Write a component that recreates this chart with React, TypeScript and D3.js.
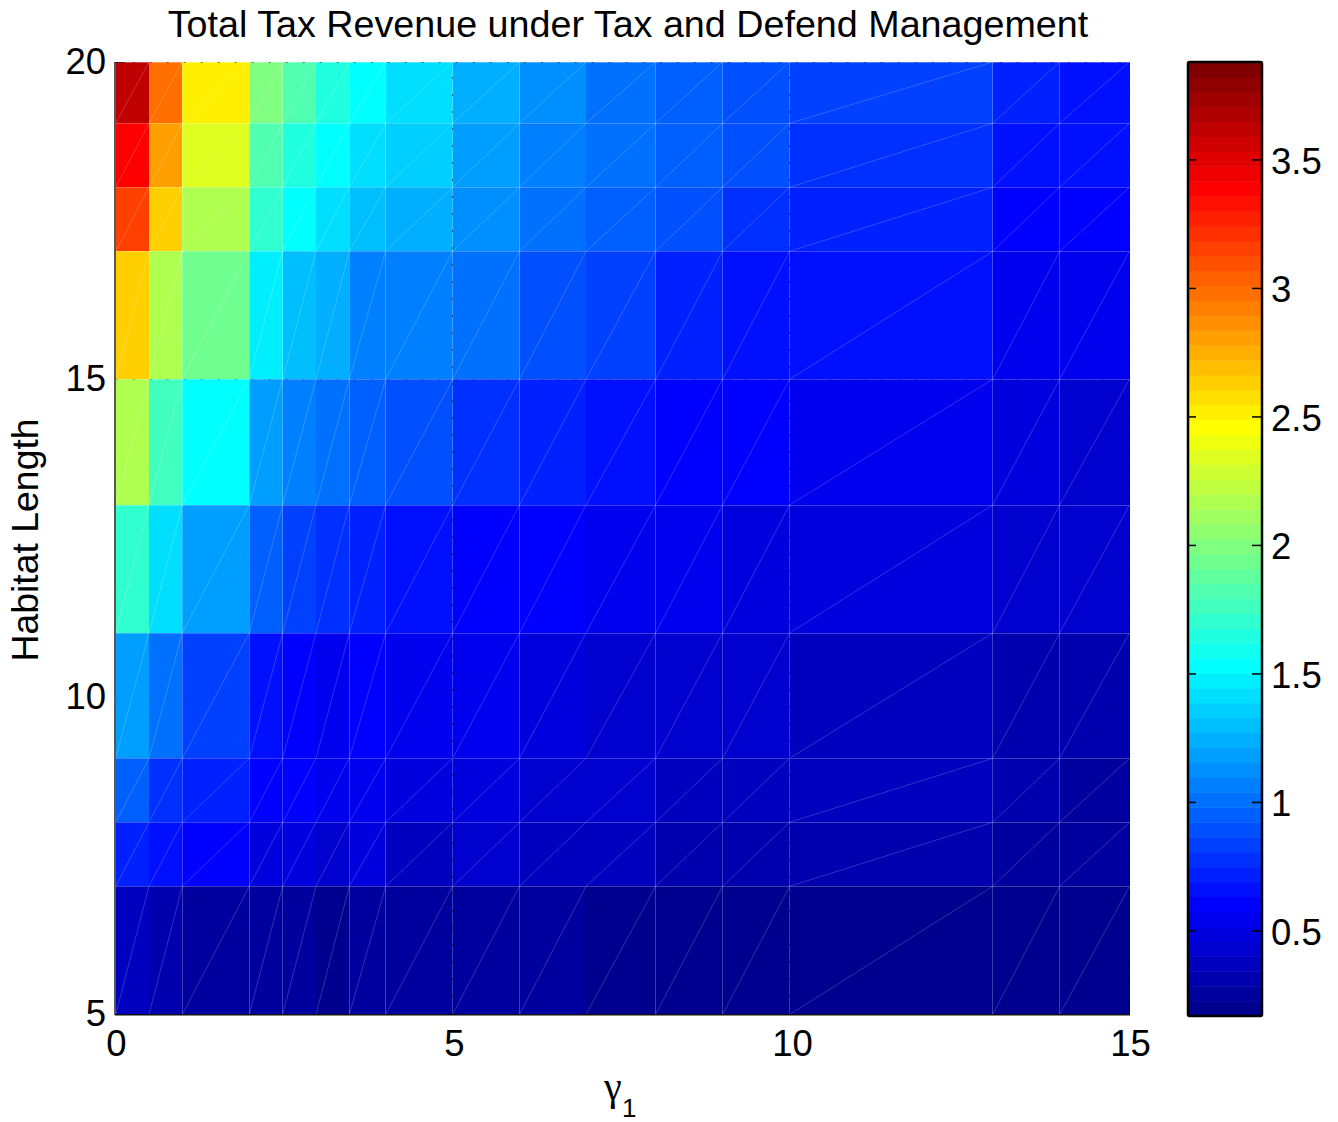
import React from "react";
import * as d3 from "d3";

const xEdges = [0, 0.5, 1, 2, 2.5, 3, 3.5, 4, 5, 6, 7, 8, 9, 10, 13, 14, 15];
const yEdges = [20, 19, 18, 17, 15, 13, 11, 9, 8, 7, 5];
const row19 = [3.62, 2.98, 2.52, 2.0, 1.82, 1.65, 1.53, 1.42, 1.24, 1.13, 1.01, 0.95, 0.89, 0.84, 0.72, 0.66];
const row18 = [3.39, 2.81, 2.35, 1.82, 1.65, 1.53, 1.42, 1.36, 1.18, 1.07, 1.01, 0.95, 0.89, 0.78, 0.66, 0.66];
const row17 = [3.16, 2.64, 2.17, 1.71, 1.53, 1.42, 1.3, 1.24, 1.13, 1.01, 0.95, 0.89, 0.78, 0.72, 0.6, 0.6];
const row15 = [2.64, 2.17, 1.94, 1.48, 1.3, 1.24, 1.07, 1.07, 1.01, 0.89, 0.84, 0.72, 0.66, 0.66, 0.55, 0.55];
const row13 = [2.17, 1.77, 1.53, 1.18, 1.07, 1.01, 0.95, 0.89, 0.78, 0.72, 0.66, 0.6, 0.6, 0.55, 0.49, 0.43];
const row11 = [1.71, 1.42, 1.18, 0.95, 0.84, 0.78, 0.72, 0.66, 0.6, 0.6, 0.55, 0.55, 0.49, 0.49, 0.43, 0.43];
const row9 = [1.18, 1.01, 0.84, 0.66, 0.6, 0.55, 0.6, 0.55, 0.55, 0.49, 0.43, 0.43, 0.43, 0.37, 0.31, 0.31];
const row8 = [0.95, 0.78, 0.72, 0.6, 0.6, 0.55, 0.55, 0.49, 0.49, 0.43, 0.43, 0.37, 0.37, 0.37, 0.31, 0.26];
const row7 = [0.72, 0.66, 0.6, 0.49, 0.49, 0.43, 0.49, 0.37, 0.43, 0.37, 0.37, 0.31, 0.31, 0.31, 0.26, 0.26];
const row5 = [0.37, 0.31, 0.26, 0.26, 0.26, 0.2, 0.26, 0.26, 0.26, 0.26, 0.2, 0.2, 0.2, 0.2, 0.2, 0.2];
const rows = [row19, row18, row17, row15, row13, row11, row9, row8, row7, row5];
const colorDomain = [0.169, 3.881];
const colorTicks = [0.5, 1, 1.5, 2, 2.5, 3, 3.5];
const xTicks = [0, 5, 10, 15];
const yTicks = [5, 10, 15, 20];
const faintX = [0.5, 3, 7];
const title = "Total Tax Revenue under Tax and Defend Management";
const yLabel = "Habitat Length";

const N = 64;
function jet(i: number): string {
  // i is 1..64, MATLAB's jet(64)
  const c = (v: number) => Math.round(255 * Math.max(0, Math.min(1, v)));
  const t = i / 16;
  const r = Math.min(t - 1.5, 4.5 - t);
  const g = Math.min(t - 0.5, 3.5 - t);
  const b = Math.min(t + 0.5, 2.5 - t);
  return `rgb(${c(r)},${c(g)},${c(b)})`;
}
const bandScale = d3.scaleQuantize<number>().domain(colorDomain).range(d3.range(1, N + 1));

const FONT = "'Liberation Sans', Arial, sans-serif";

export default function App() {
  // axis scales (ticks, grid, labels)
  const x = d3.scaleLinear().domain([0, 15]).range([115, 1129]);
  const y = d3.scaleLinear().domain([5, 20]).range([1014, 62]);
  // the mesh was snapped to pixels by its renderer, so its scale is calibrated edge by edge
  const mx = d3.scaleLinear().domain(xEdges).range([115.7, 149, 182.3, 249.3, 282.7, 316, 349.3, 385.7, 452.7, 519.5, 586, 655.6, 722.6, 789.6, 992.7, 1059.6, 1129.5]);
  const my = d3.scaleLinear().domain(yEdges).range([62, 123.3, 187.3, 251.3, 379.3, 505, 633, 758.3, 822.3, 886.3, 1014.5]);
  const cb = d3.scaleLinear().domain(colorDomain).range([1016, 62]);
  const cbL = 1188, cbR = 1262;
  const bandsTop = d3.range(1, N + 1);
  const dotDash = "2 15";
  const fs = 36.5;

  return (
    <svg width={1338} height={1122} style={{ position: "absolute", left: 0, top: 0, background: "#fff" }} fontFamily={FONT}>
      <text x={628} y={37} textAnchor="middle" fontSize={37.7} fill="#000">{title}</text>

      {rows.map((row, j) =>
        row.map((v, i) => (
          <rect key={`c${j}-${i}`} x={mx(xEdges[i])} y={my(yEdges[j])}
            width={mx(xEdges[i + 1]) - mx(xEdges[i])} height={my(yEdges[j + 1]) - my(yEdges[j])}
            fill={jet(bandScale(v))} shapeRendering="crispEdges" />
        ))
      )}

      {/* triangulation seams */}
      {rows.map((row, j) =>
        row.map((_, i) => (
          <line key={`d${j}-${i}`} x1={mx(xEdges[i])} y1={my(yEdges[j + 1])} x2={mx(xEdges[i + 1])} y2={my(yEdges[j])}
            stroke="#fff" strokeOpacity={0.24} strokeWidth={0.8} />
        ))
      )}
      {yEdges.slice(1, -1).map((e) => (
        <line key={`h${e}`} x1={mx(0)} x2={mx(15)} y1={Math.floor(my(e)) + 0.5} y2={Math.floor(my(e)) + 0.5}
          stroke="#fff" strokeOpacity={0.24} strokeWidth={1} />
      ))}
      {xEdges.slice(1, -1).filter((e) => !faintX.includes(e)).map((e) => (
        <line key={`v${e}`} y1={my(20)} y2={my(5)} x1={Math.floor(mx(e)) + 0.5} x2={Math.floor(mx(e)) + 0.5}
          stroke="#fff" strokeOpacity={0.24} strokeWidth={1} />
      ))}
      <line x1={mx(0)} x2={mx(15)} y1={y(20) + 0.5} y2={y(20) + 0.5} stroke="#fff" strokeOpacity={0.3} />

      {/* dotted grid */}
      {[5, 10, 15].map((t) => (
        <line key={`gx${t}`} x1={Math.floor(mx(t)) + 0.5} x2={Math.floor(mx(t)) + 0.5} y1={y(5)} y2={y(20)}
          stroke="#000" strokeOpacity={0.5} strokeDasharray={dotDash} />
      ))}
      {[10, 15, 20].map((t) => (
        <line key={`gy${t}`} y1={Math.floor(y(t)) + 0.5} y2={Math.floor(y(t)) + 0.5} x1={mx(0)} x2={mx(15)}
          stroke="#000" strokeOpacity={t === 10 ? 0.12 : t === 15 ? 0.3 : 0.5} strokeDasharray={dotDash} />
      ))}

      {/* axes */}
      <line x1={115} x2={115} y1={y(20)} y2={1015} stroke="#222" strokeWidth={1.5} />
      <line x1={115} x2={1130} y1={1014.7} y2={1014.7} stroke="#111" strokeWidth={1.5} />
      <line x1={115} x2={125} y1={62.5} y2={62.5} stroke="#000" strokeOpacity={0.6} />
      <line x1={1129.5} x2={1129.5} y1={1014} y2={1004} stroke="#000" strokeOpacity={0.6} />

      {xTicks.map((t) => (
        <text key={`xl${t}`} x={x(t) + 1.5} y={1056} textAnchor="middle" fontSize={fs} fill="#000">{t}</text>
      ))}
      {yTicks.map((t) => (
        <text key={`yl${t}`} x={106} y={y(t) + 12} textAnchor="end" fontSize={fs} fill="#000">{t}</text>
      ))}
      <text transform="translate(38,540) rotate(-90)" textAnchor="middle" fontSize={37.4} fill="#000">{yLabel}</text>
      <text x={604} y={1100} fontSize={40} fontFamily="'Liberation Serif', serif" fill="#000">γ</text>
      <text x={622} y={1116.5} fontSize={26} fill="#000">1</text>

      {/* colour bar */}
      {bandsTop.map((i) => (
        <rect key={`b${i}`} x={cbL} width={cbR - cbL}
          y={cb(colorDomain[0] + (i / N) * (colorDomain[1] - colorDomain[0]))}
          height={(1016 - 62) / N + 0.5} fill={jet(i)} />
      ))}
      <rect x={cbL} y={62} width={cbR - cbL} height={954} fill="none" stroke="#000" strokeWidth={2.5} rx={1.5} />
      {colorTicks.map((t) => (
        <g key={`cb${t}`}>
          <line x1={cbL} x2={cbL + 8} y1={cb(t)} y2={cb(t)} stroke="#000" strokeWidth={1.5} />
          <line x1={cbR - 10} x2={cbR} y1={cb(t)} y2={cb(t)} stroke="#000" strokeWidth={1.5} />
          <text x={1271} y={cb(t) + 14} fontSize={fs} fill="#000">{t}</text>
        </g>
      ))}
    </svg>
  );
}
